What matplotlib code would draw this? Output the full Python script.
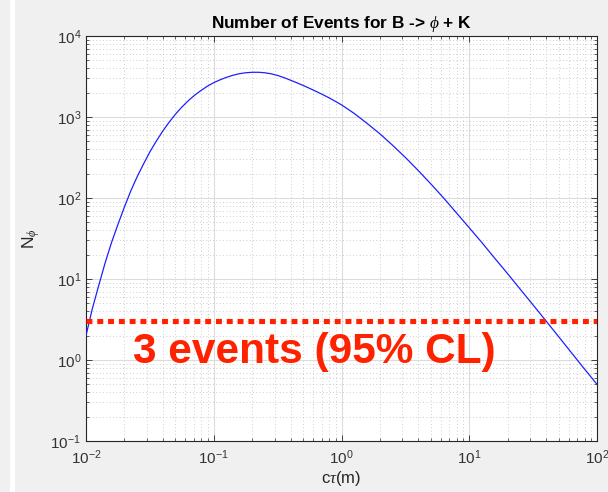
import numpy as np
import matplotlib
matplotlib.use("Agg")
import matplotlib.pyplot as plt
from matplotlib.ticker import LogLocator, LogFormatterSciNotation, NullFormatter
from matplotlib.patches import Rectangle

plt.rcParams['font.family'] = ['Liberation Sans', 'DejaVu Sans']
plt.rcParams['mathtext.fontset'] = 'custom'
plt.rcParams['mathtext.rm'] = 'Liberation Sans'
plt.rcParams['mathtext.it'] = 'Liberation Serif:italic'
plt.rcParams['mathtext.bf'] = 'Liberation Sans:bold'

# decay length c*tau (m)
ctau = [0.0100, 0.0112, 0.0126, 0.0141, 0.0158, 0.0178, 0.0200, 0.0224, 0.0251, 0.0282,
        0.0316, 0.0355, 0.0398, 0.0447, 0.0501, 0.0562, 0.0631, 0.0708, 0.0794, 0.0891,
        0.100, 0.112, 0.126, 0.141, 0.158, 0.178, 0.200, 0.224, 0.251, 0.282,
        0.316, 0.355, 0.398, 0.447, 0.501, 0.562, 0.631, 0.708, 0.794, 0.891,
        1.00, 1.26, 1.58, 2.00, 2.51, 3.16, 3.98, 5.01, 6.31, 7.94,
        10.0, 12.6, 15.8, 20.0, 25.1, 31.6, 39.8, 50.1, 63.1, 79.4, 100.0]
# expected number of B -> phi + K events
n_events = [2.00, 4.28, 8.41, 15.7, 27.9, 47.3, 77.6, 122.0, 182.0, 263.0,
            370.0, 504.0, 667.0, 861.0, 1081.0, 1324.0, 1585.0, 1858.0, 2123.0, 2399.0,
            2655.0, 2877.0, 3090.0, 3273.0, 3420.0, 3516.0, 3565.0, 3565.0, 3516.0, 3412.0,
            3258.0, 3062.0, 2851.0, 2646.0, 2452.0, 2259.0, 2075.0, 1901.0, 1734.0, 1567.0,
            1413.0, 1104.0, 838.0, 619.0, 448.0, 317.0, 219.0, 149.0, 99.8, 65.5,
            42.9, 28.0, 18.1, 11.6, 7.46, 4.78, 3.05, 1.94, 1.23, 0.782, 0.501]

cl_level = 3.0
cl_label = "3 events (95% CL)"
x_limits = [1e-2, 1e2]
y_limits = [1e-1, 1e4]

W, H, DPI = 608, 492, 100
fig = plt.figure(figsize=(W / DPI, H / DPI), dpi=DPI, facecolor='#f0f0f0')
fig.patches.append(Rectangle((10 / W, 0), 5 / W, 1, transform=fig.transFigure,
                             facecolor='white', edgecolor='none', zorder=0))

ax = fig.add_axes([86 / W, 1 - 441 / H, 511 / W, 405 / H])
ax.set_facecolor('white')
ax.set_xscale('log')
ax.set_yscale('log')
ax.set_xlim(x_limits)
ax.set_ylim(y_limits)

ax.plot(ctau, n_events, color='#1f1fff', lw=0.9, zorder=3)
ax.plot(x_limits, [cl_level, cl_level], color='#ff2200', lw=3.7,
        linestyle=(0, (1.15, 0.95)), dash_capstyle='butt', zorder=4)
ax.text(0.092, 0.22, cl_label, transform=ax.transAxes, color='#ff2200',
        fontsize=30.5, fontweight='bold', ha='left', va='center', zorder=5)

for axis in (ax.xaxis, ax.yaxis):
    axis.set_major_locator(LogLocator(base=10, numticks=20))
    axis.set_minor_locator(LogLocator(base=10, subs=np.arange(2, 10), numticks=20))
    axis.set_major_formatter(LogFormatterSciNotation())
    axis.set_minor_formatter(NullFormatter())

ax.grid(True, which='major', color='#dcdcdc', lw=0.8, linestyle='-', zorder=1)
ax.grid(True, which='minor', color='#bdbdbd', lw=0.6, linestyle=(0, (1, 3)), zorder=1)
ax.set_axisbelow(True)

ax.tick_params(which='both', direction='in', top=True, right=True,
               colors='#262626', labelcolor='#333333', labelsize=11)
ax.tick_params(which='major', length=4, width=0.6)
ax.tick_params(which='minor', length=2, width=0.5)
ax.tick_params(axis='x', pad=5)
for sp in ax.spines.values():
    sp.set_color('#262626')
    sp.set_linewidth(0.8)

ax.set_title(r"Number of Events for B -> $\phi$ + K", fontsize=12.4, fontweight='bold',
             color='black', pad=6)
ax.set_xlabel(r"c$\tau$(m)", fontsize=12, color='#262626', labelpad=2)
ax.set_ylabel(r"N$_\phi$", fontsize=12.5, color='#262626', labelpad=6)

fig.savefig("out.png", dpi=DPI, facecolor=fig.get_facecolor())
